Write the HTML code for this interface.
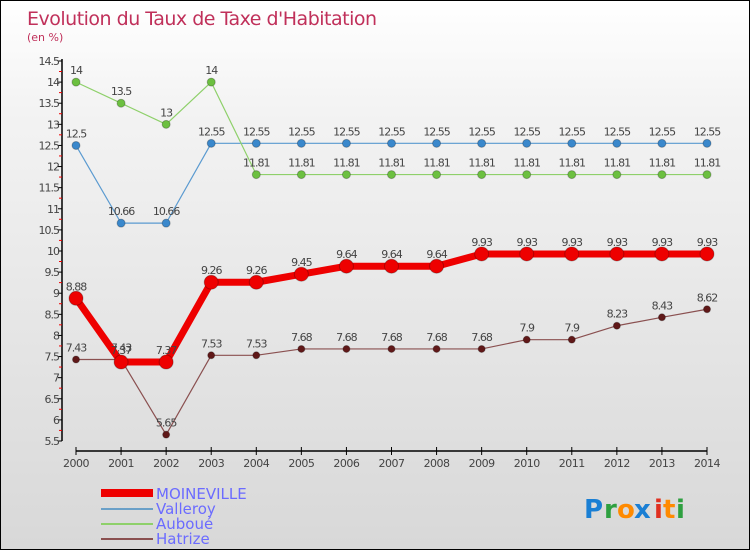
<!DOCTYPE html>
<html><head><meta charset="utf-8"><style>
body{margin:0;width:750px;height:550px;overflow:hidden;font-family:"DejaVu Sans","Liberation Sans",sans-serif}
#wrap{position:absolute;left:0;top:0;width:748px;height:548px;border:1px solid #000;background:linear-gradient(#ffffff,#f3f3f3 20%,#d8d8d8)}
text{font-family:"DejaVu Sans","Liberation Sans",sans-serif}
</style></head><body>
<div id="wrap">
<svg id="svg" width="750" height="550" xmlns="http://www.w3.org/2000/svg">
<text x="26" y="24" font-size="19" fill="#c0305a" letter-spacing="-0.5">Evolution du Taux de Taxe d'Habitation</text>
<text x="26" y="40" font-size="11" fill="#c0305a">(en %)</text>
<g id="axes"></g><g id="series"></g>
<g>
<line x1="100" y1="492" x2="152" y2="492" stroke="#e00" stroke-width="8"/>
<text x="155" y="498" font-size="15" fill="#6b6bff">MOINEVILLE</text>
<line x1="100" y1="508" x2="152" y2="508" stroke="#6aa0c8" stroke-width="2"/>
<text x="155" y="513" font-size="15" fill="#6b6bff">Valleroy</text>
<line x1="100" y1="523" x2="152" y2="523" stroke="#8ed06a" stroke-width="2"/>
<text x="155" y="528" font-size="15" fill="#6b6bff">Auboué</text>
<line x1="100" y1="538" x2="152" y2="538" stroke="#8a5050" stroke-width="2"/>
<text x="155" y="543" font-size="15" fill="#6b6bff">Hatrize</text>
</g>
<g font-size="26" font-weight="bold">
<text x="583" y="517" fill="#1a7fd4">P</text><text x="603" y="517" fill="#2ea040">r</text><text x="616" y="517" fill="#ff8a00">o</text><text x="633" y="517" fill="#1a7fd4">x</text><text x="653" y="517" fill="#e03020">i</text><text x="662" y="517" fill="#ff8a00">t</text><text x="675" y="517" fill="#2ea040">i</text>
</g>
</svg></div>
<script>
const years=["2000","2001","2002","2003","2004","2005","2006","2007","2008","2009","2010","2011","2012","2013","2014"];
const yTicks=[5.5,6,6.5,7,7.5,8,8.5,9,9.5,10,10.5,11,11.5,12,12.5,13,13.5,14,14.5];
const moineville=[8.88,7.37,7.37,9.26,9.26,9.45,9.64,9.64,9.64,9.93,9.93,9.93,9.93,9.93,9.93];
const valleroy=[12.5,10.66,10.66,12.55,12.55,12.55,12.55,12.55,12.55,12.55,12.55,12.55,12.55,12.55,12.55];
const auboue=[14,13.5,13,14,11.81,11.81,11.81,11.81,11.81,11.81,11.81,11.81,11.81,11.81,11.81];
const hatrize=[7.43,7.43,5.65,7.53,7.53,7.68,7.68,7.68,7.68,7.68,7.9,7.9,8.23,8.43,8.62];
const NS="http://www.w3.org/2000/svg";
const xS=i=>75+i*(706-75)/14;
const yS=v=>440-(v-5.5)*(380/9);
function mk(t,a,p){const e=document.createElementNS(NS,t);for(const k in a)e.setAttribute(k,a[k]);p.appendChild(e);return e;}
const ax=document.getElementById('axes');
let l=mk('line',{x1:61,y1:58,x2:61,y2:440,stroke:'#000','stroke-width':1.5},ax);


yTicks.forEach((v,k)=>{const y=yS(v);
mk('line',{x1:57,y1:y,x2:61,y2:y,stroke:'#000'},ax);
if(k>0)mk('line',{x1:58,y1:y+10.5,x2:61,y2:y+10.5,stroke:'#e00'},ax);
const t=mk('text',{x:58,y:y+4,'font-size':11,fill:'#444','text-anchor':'end','letter-spacing':'-1'},ax);t.textContent=v;

});
l=mk('line',{x1:75,y1:450,x2:706,y2:450,stroke:'#000','stroke-width':1.5},ax);


years.forEach((yr,i)=>{const x=xS(i);mk('line',{x1:x,y1:446,x2:x,y2:454,stroke:'#000'},ax);
const t=mk('text',{x:x,y:466,'font-size':11,fill:'#444','text-anchor':'middle','letter-spacing':'-0.5'},ax);t.textContent=yr;

});
const sg=document.getElementById('series');
function series(vals,name,color,w,r,dot,lab){
const g=mk('g',{},sg);


const pl=mk('polyline',{points:vals.map((v,i)=>xS(i)+','+yS(v)).join(' '),fill:'none',stroke:color,'stroke-width':w,'stroke-linejoin':'round'},g);


vals.forEach((v,i)=>{const c=mk('circle',{cx:xS(i),cy:yS(v),r:r,fill:dot,stroke:'rgba(0,0,0,0.25)'},g);


const t=mk('text',{x:xS(i),y:yS(v)-8,'font-size':11,fill:lab,'text-anchor':'middle','letter-spacing':'-1'},g);t.textContent=v;

});}
series(valleroy,'valleroy','#5a9ad0',1.2,4,'#3a88cc','#444');
series(auboue,'auboue','#8ed06a',1.2,4,'#6cc040','#444');
series(hatrize,'hatrize','#8a5050',1.2,3.5,'#601818','#444');
series(moineville,'moineville','#ee0000',7,7,'#ee0000','#444');
</script>
</body></html>
